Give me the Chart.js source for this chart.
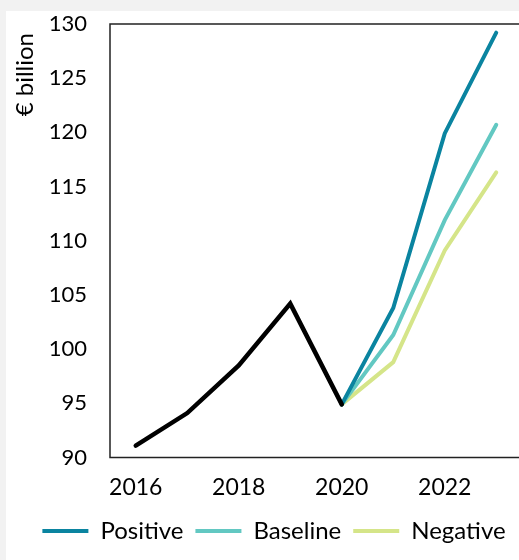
<!DOCTYPE html>
<html>
<head>
<meta charset="utf-8">
<script src="https://cdn.jsdelivr.net/npm/chart.js@4.4.1/dist/chart.umd.min.js"></script>
<style>
  html, body { margin: 0; padding: 0; background: #f2f2f2; overflow: hidden; width: 519px; height: 560px; }
  #panel { position: absolute; left: 6px; top: 11px; width: 520px; height: 549px; background: #ffffff; }
</style>
</head>
<body>
<div id="panel"><canvas id="chart" width="520" height="549"></canvas></div>
<script>
// Years on the horizontal axis and the labels shown under it
const years = ['2016', '2017', '2018', '2019', '2020', '2021', '2022', '2023'];
const xTickLabels = ['2016', '2018', '2020', '2022'];
const yTicks = [90, 95, 100, 105, 110, 115, 120, 125, 130];
const yAxisTitle = '€ billion';

// Outturn to 2020, then three scenarios
const actual   = [91.1, 94.1, 98.5, 104.2, 94.9, null, null, null];
const positive = [null, null, null, null, 94.9, 103.8, 119.9, 129.2];
const baseline = [null, null, null, null, 94.9, 101.3, 111.9, 120.7];
const negative = [null, null, null, null, 94.9, 98.8, 109.1, 116.3];

const FONT = 'Lato, "Open Sans", sans-serif';

// Frame round the plot area and the rotated unit caption at its top left
const plotFrame = {
  id: 'plotFrame',
  beforeDatasetsDraw(chart) {
    const { ctx, chartArea: a } = chart;
    ctx.save();
    ctx.strokeStyle = '#222';
    ctx.lineWidth = 1.5;
    ctx.strokeRect(a.left, a.top, a.right - a.left, a.bottom - a.top);
    ctx.translate(19, a.top + 9);
    ctx.rotate(-Math.PI / 2);
    ctx.fillStyle = '#000';
    ctx.font = '24px ' + FONT;
    ctx.textAlign = 'right';
    ctx.textBaseline = 'middle';
    ctx.fillText(yAxisTitle, 0, 0);
    ctx.restore();
  }
};

const lineStyle = (color, width) => ({
  borderColor: color,
  backgroundColor: color,
  borderWidth: width,
  pointRadius: 0,
  borderCapStyle: 'round',
  borderJoinStyle: 'miter',
  tension: 0,
  spanGaps: false
});

new Chart(document.getElementById('chart'), {
  type: 'line',
  data: {
    labels: years,
    datasets: [
      Object.assign({ label: 'Actual', data: actual }, lineStyle('#000000', 4.5)),
      Object.assign({ label: 'Positive', data: positive }, lineStyle('#0a84a0', 4)),
      Object.assign({ label: 'Baseline', data: baseline }, lineStyle('#62c8c2', 4)),
      Object.assign({ label: 'Negative', data: negative }, lineStyle('#d5e589', 4))
    ]
  },
  options: {
    responsive: false,
    animation: false,
    layout: { padding: { top: 13, right: 4, bottom: 7, left: 20 } },
    plugins: {
      tooltip: { enabled: false },
      legend: {
        position: 'bottom',
        labels: {
          filter: (item) => item.text !== 'Actual',
          usePointStyle: true,
          pointStyle: 'line',
          pointStyleWidth: 46,
          color: '#000',
          font: { family: FONT, size: 24 },
          padding: 12
        }
      }
    },
    scales: {
      x: {
        offset: true,
        afterFit: (scale) => { scale.height = 49.5; scale.paddingLeft = 0; scale.paddingRight = 0; },
        grid: { display: false, drawTicks: false },
        border: { display: false },
        ticks: {
          autoSkip: false,
          maxRotation: 0,
          color: '#000',
          font: { family: FONT, size: 23 },
          padding: 16.5,
          callback: function (value) {
            const lab = this.getLabelForValue(value);
            return xTickLabels.includes(lab) ? lab : '';
          }
        }
      },
      y: {
        min: 90,
        max: 130,
        afterFit: (scale) => { scale.width = 84; scale.paddingTop = 0; scale.paddingBottom = 0; },
        afterBuildTicks: (scale) => { scale.ticks = yTicks.map(v => ({ value: v })); },
        grid: { display: false, drawTicks: false },
        border: { display: false },
        ticks: {
          color: '#000',
          font: { family: FONT, size: 22 },
          padding: 23
        }
      }
    }
  },
  plugins: [plotFrame]
});
</script>
</body>
</html>
